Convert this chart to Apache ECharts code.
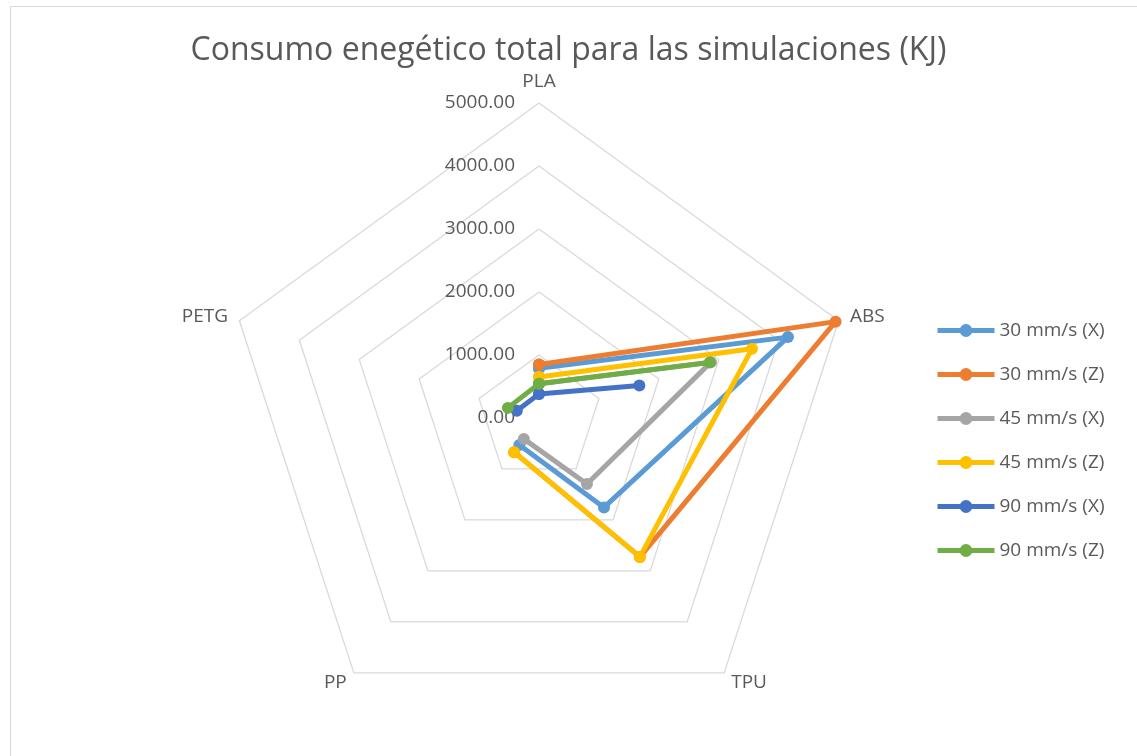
<!DOCTYPE html>
<html>
<head>
<meta charset="utf-8">
<script src="https://cdn.jsdelivr.net/npm/echarts@6/dist/echarts.min.js"></script>
<style>
  body { margin: 0; background: #fff; overflow: hidden; }
  #frame { position: absolute; left: 10px; top: 6px; width: 1200px; height: 800px; border: 1px solid #d9d9d9; }
  #main { position: absolute; left: 0; top: 0; width: 1137px; height: 756px; }
</style>
</head>
<body>
<div id="frame"></div>
<div id="main"></div>
<script>
// materiales (ejes del radar, en sentido horario desde arriba)
const categories = ['PLA', 'ABS', 'TPU', 'PP', 'PETG']
const ticks = [0, 1000, 2000, 3000, 4000, 5000]
// consumo en KJ, '-' = sin dato
const v30X = [790, 4155, 1755, 530, '-']
const v30Z = [850, 4950, 2725, 670, '-']
const v45X = [545, 2870, 1295, 410, '-']
const v45Z = [650, 3555, 2725, 670, '-']
const v90X = [380, 1675, '-', '-', 370]
const v90Z = [545, 2850, '-', '-', 520]
const seriesNames = ['30 mm/s (X)', '30 mm/s (Z)', '45 mm/s (X)', '45 mm/s (Z)', '90 mm/s (X)', '90 mm/s (Z)']
const seriesValues = [v30X, v30Z, v45X, v45Z, v90X, v90Z]
const colors = ['#5B9BD5', '#ED7D31', '#A5A5A5', '#FFC000', '#4472C4', '#70AD47']

const font = 'Open Sans'
const textColor = '#595959'
const center = [539, 418]
const radius = 315
const maxVal = ticks[ticks.length - 1]

// cada punto como [valor, angulo]; se repite el primero a 360 para cerrar
function toPolar(vals) {
  let pts = vals.map((v, i) => [v, i * 360 / categories.length])
  pts.push([vals[0], 360])
  return pts
}

let myChart = echarts.init(document.getElementById('main'))

// el radar de echarts va en sentido antihorario: se invierte el orden
let radarOrder = [categories[0]].concat(categories.slice(1).reverse())
let indicator = radarOrder.map((name, i) => {
  let ind = { name: name, max: maxVal, min: 0 }
  if (i === 0) {
    ind.axisLabel = { show: true }
  }
  return ind
})

let series = seriesNames.map((name, i) => ({
  name: name,
  type: 'line',
  coordinateSystem: 'polar',
  data: toPolar(seriesValues[i]),
  symbol: 'circle',
  symbolSize: 12,
  connectNulls: false,
  color: colors[i],
  lineStyle: { width: 5, color: colors[i] },
  itemStyle: { color: colors[i] }
}))

let options = {
  animation: false,
  backgroundColor: 'transparent',
  title: {
    text: 'Consumo enegético total para las simulaciones (KJ)',
    left: 'center',
    top: 30,
    textStyle: { fontFamily: font, fontSize: 32, fontWeight: 'normal', color: textColor }
  },
  legend: {
    orient: 'vertical',
    left: 930,
    top: 316,
    itemWidth: 57,
    itemHeight: 16,
    itemGap: 25,
    data: seriesNames,
    lineStyle: { width: 5 },
    textStyle: { fontFamily: font, fontSize: 19, color: textColor }
  },
  radar: {
    center: center,
    radius: radius,
    shape: 'polygon',
    splitNumber: ticks.length - 1,
    startAngle: 90,
    indicator: indicator,
    axisName: { color: textColor, fontFamily: font, fontSize: 19 },
    nameGap: 12,
    axisLine: { show: false },
    axisTick: { show: false },
    splitArea: { show: false },
    splitLine: { lineStyle: { color: '#d9d9d9', width: 1.3 } },
    axisLabel: {
      show: false,
      color: textColor,
      fontFamily: font,
      fontSize: 19,
      margin: 24,
      formatter: v => Number(v).toFixed(2)
    }
  },
  polar: { center: center, radius: radius },
  angleAxis: {
    type: 'value', min: 0, max: 360, startAngle: 90, clockwise: true,
    show: false, splitLine: { show: false }, axisLine: { show: false }
  },
  radiusAxis: {
    type: 'value', min: 0, max: maxVal,
    show: false, splitLine: { show: false }, axisLine: { show: false }
  },
  series: series
}
myChart.setOption(options)
</script>
</body>
</html>
